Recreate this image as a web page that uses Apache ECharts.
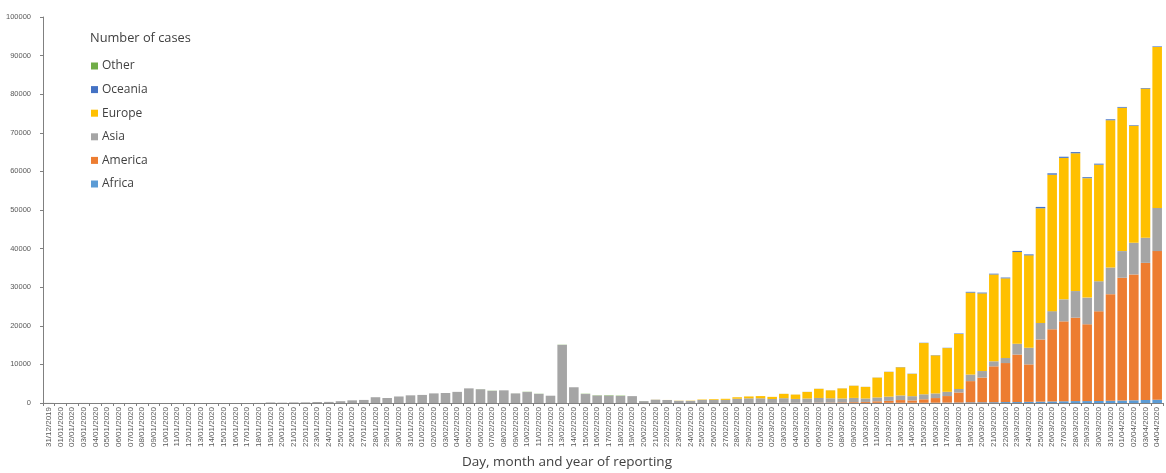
<!DOCTYPE html>
<html><head><meta charset="utf-8">
<script src="https://cdn.jsdelivr.net/npm/echarts@6/dist/echarts.min.js"></script>
<style>html,body{margin:0;padding:0;background:#fff}#c{width:1166px;height:473px}</style>
</head><body><div id="c"></div>
<script>
// Categories: daily reporting dates 31/12/2019 .. 04/04/2020 (96 days)
const startDate = [2019, 11, 31];
const dayCount = 96;
const categories = [];
for (let i = 0; i < dayCount; i++) {
  const d = new Date(Date.UTC(startDate[0], startDate[1], startDate[2] + i));
  const dd = String(d.getUTCDate()).padStart(2, '0');
  const mm = String(d.getUTCMonth() + 1).padStart(2, '0');
  categories.push(dd + '/' + mm + '/' + d.getUTCFullYear());
}

const seriesNames = ['Africa', 'America', 'Asia', 'Europe', 'Oceania', 'Other'];
const legendOrder = ['Other', 'Oceania', 'Europe', 'Asia', 'America', 'Africa'];
const yTicks = [0, 10000, 20000, 30000, 40000, 50000, 60000, 70000, 80000, 90000, 100000];

const africa = [0,0,0,0,0,0,0,0,0,0, 0,0,0,0,0,0,0,0,0,0, 0,0,0,0,0,0,0,0,0,0,
  0,0,0,0,0,0,0,0,0,0, 0,0,0,0,0,0,1,0,0,0, 0,0,0,0,0,0,1,0,1,2,
  1,3,2,5,6,10,15,20,25,20, 25,40,50,60,70,60,80,100,120,170, 180,200,250,250,300,350,400,450,500,500,
  550,600,650,700,800,850];
const america = [0,0,0,0,0,0,0,0,0,0, 0,0,0,0,0,0,0,0,0,0, 0,1,0,0,0,2,3,0,1,0,
  0,0,2,1,3,0,1,0,0,0, 0,0,0,0,1,0,0,0,0,0, 0,0,13,0,2,6,5,3,10,5,
  15,20,30,40,45,60,90,110,150,200, 250,400,500,700,600,900,1200,1700,2600,5500, 6400,9300,10100,12300,9700,16100,18700,20700,21600,19900,
  23200,27600,31800,32600,35500,38500];
const asia = [27,0,0,17,0,15,0,0,0,0, 0,0,0,1,1,0,1,5,20,140, 80,150,165,265,285,465,685,795,1495,1295,
  1690,1985,2090,2490,2590,2885,3790,3560,3150,3280, 2480,2840,2360,1890,15050,4080,2320,1920,1900,1810, 1780,480,850,780,560,540,790,800,800,1100,
  1200,1200,1000,1200,1000,1100,1200,1100,1000,1100, 900,1000,1100,1200,1100,1300,1200,1100,900,1700, 1700,1300,1300,2800,4300,4300,4700,5700,6900,6900,
  7800,6900,6900,8200,6500,11200];
const europe = [0,0,0,0,0,0,0,0,0,0, 0,0,0,0,0,0,0,0,0,0, 0,0,0,0,0,3,0,1,4,1,
  6,8,4,3,2,5,4,5,4,3, 5,3,2,3,2,2,3,1,2,1, 0,3,20,10,40,60,110,190,280,380,
  480,570,560,1130,1130,1700,2370,2050,2600,3150, 3000,5130,6410,7290,5780,13270,9850,11330,14250,21230, 20120,22500,20650,23750,23950,29700,35350,36650,35700,30950,
  30200,38150,37150,30350,38650,41700];
const oceania = [0,0,0,0,0,0,0,0,0,0, 0,0,0,0,0,0,0,0,0,0, 0,0,0,0,0,0,4,1,0,2,
  1,0,3,2,0,0,0,0,0,0, 0,0,0,0,0,0,0,0,0,0, 0,0,0,0,0,0,0,0,2,3,
  4,5,5,10,10,20,20,15,20,25, 20,30,40,50,50,70,70,70,130,200, 200,200,200,300,250,350,350,300,300,250,
  250,250,200,150,150,150];
const other = [0,0,0,0,0,0,0,0,0,0, 0,0,0,0,0,0,0,0,0,0, 0,0,0,0,0,0,0,0,0,0,
  0,0,0,0,0,0,0,20,40,5, 10,60,40,0,45,0,70,70,99,88, 0,13,0,0,0,0,0,4,5,0,
  0,0,0,0,0,0,0,0,0,0, 0,0,0,0,0,0,0,0,0,0, 0,0,0,0,0,0,0,0,0,0,
  0,0,0,0,0,0];

const colors = {Africa:'#5B9BD5', America:'#ED7D31', Asia:'#A5A5A5', Europe:'#FFC000', Oceania:'#4472C4', Other:'#70AD47'};
const dataByName = {Africa:africa, America:america, Asia:asia, Europe:europe, Oceania:oceania, Other:other};

const chart = echarts.init(document.getElementById('c'), null, {renderer:'canvas'});
chart.setOption({
  animation: false,
  backgroundColor: '#ffffff',
  title: [
    {text: 'Number of cases', left: 90, top: 32, padding: 0, textStyle: {fontSize: 12.8, fontWeight: 'normal', color: '#404040', fontFamily: 'Open Sans'}},
    {text: 'Day, month and year of reporting', left: 462, top: 455, padding: 0, textStyle: {fontSize: 13.5, fontWeight: 'normal', color: '#404040', fontFamily: 'Open Sans'}}
  ],
  legend: {
    orient: 'vertical', left: 91, top: 59, padding: 0, itemWidth: 7, itemHeight: 7, itemGap: 9.6,
    icon: 'rect', data: legendOrder,
    textStyle: {fontSize: 12, color: '#404040', fontFamily: 'Open Sans', lineHeight: 14, padding: [0,0,0,-1]}
  },
  grid: {left: 43, right: 3, top: 17, bottom: 70, containLabel: false},
  xAxis: {
    type: 'category', data: categories,
    axisLine: {lineStyle: {color: '#808080'}},
    axisTick: {show: true, lineStyle: {color: '#808080'}, length: 3},
    axisLabel: {interval: 0, rotate: 90, fontSize: 8, color: '#595959', margin: 4, fontFamily: 'Liberation Sans'}
  },
  yAxis: {
    type: 'value', min: yTicks[0], max: yTicks[yTicks.length - 1], interval: yTicks[1] - yTicks[0],
    axisLine: {show: true, lineStyle: {color: '#808080'}},
    axisTick: {show: true, length: 3, lineStyle: {color: '#808080'}},
    splitLine: {show: false},
    axisLabel: {fontSize: 7.5, color: '#595959', margin: 12, fontFamily: 'Liberation Sans', formatter: v => String(v)}
  },
  series: seriesNames.map(n => ({
    name: n, type: 'bar', stack: 'total', data: dataByName[n],
    barCategoryGap: '18%', itemStyle: {color: colors[n]}
  }))
});
</script></body></html>
